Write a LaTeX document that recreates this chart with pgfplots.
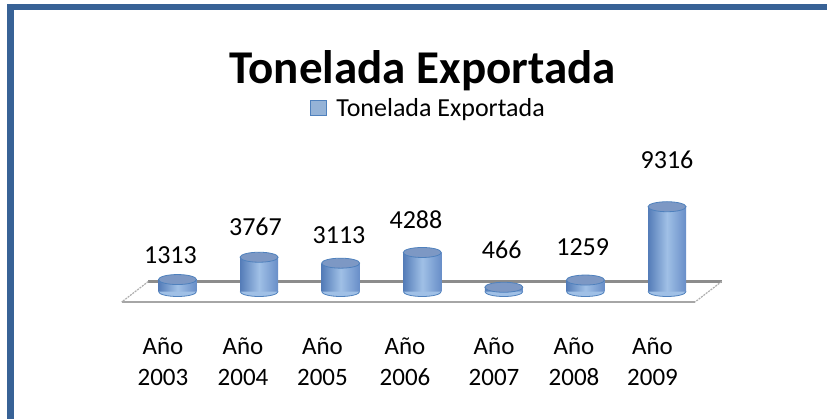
\documentclass[border=0pt]{standalone}
\usepackage{fontspec}
\setmainfont{Carlito}
\usepackage{pgfplots}
\usepackage{pgfplotstable}
\pgfplotsset{compat=1.18}
\definecolor{frameblue}{RGB}{56,98,150}
\definecolor{cylborder}{RGB}{79,129,189}
\definecolor{cyltop}{RGB}{125,152,196}
\definecolor{cylleft}{RGB}{84,124,184}
\definecolor{cylmid}{RGB}{160,192,230}
\definecolor{cylright}{RGB}{104,142,200}
\definecolor{legfill}{RGB}{149,179,215}
\definecolor{floorback}{RGB}{140,140,140}
\definecolor{floorfront}{RGB}{166,166,166}
\definecolor{floorside}{RGB}{175,175,175}
\pgfdeclareplotmark{cyltopmark}{%
  \pgfpathellipse{\pgfpointorigin}{\pgfqpoint{19pt}{0pt}}{\pgfqpoint{0pt}{5pt}}%
  \pgfusepathqfillstroke}
\pgfdeclareplotmark{cylbotmark}{%
  \pgfpathmoveto{\pgfqpoint{-19pt}{0pt}}%
  \pgfpatharc{180}{360}{19pt and 5pt}%
  \pgfusepathqfillstroke}
\pgfplotstableread{
x y
0 1313
1 3767
2 3113
3 4288
4 466
5 1259
6 9316
}\datatable
\newcommand{\cylbody}[2]{\addplot[ybar, bar width=38pt, draw=none, shading=axis, left color=cylleft, right color=cylright, middle color=cylmid, forget plot] coordinates {(#1,#2)};}
\begin{document}
\begin{tikzpicture}[x=1pt,y=1pt]
\path[use as bounding box] (0,0) rectangle (827,418);
\fill[white] (0,0) rectangle (827,418);
\draw[frameblue, line width=6.5pt] (10.7,-5) -- (10.7,411) -- (835,411);
% floor
\fill[white] (148.3,136.5) -- (721.7,136.5) -- (695,116) -- (121.7,116) -- cycle;
\draw[floorback, line width=2.2pt] (148.3,136.5) -- (721.7,136.5);
\draw[floorfront, line width=2.2pt] (121.7,116) -- (695,116);
\draw[floorside, line width=1.2pt, dash pattern=on 2pt off 1pt] (148.3,136.5) -- (121.7,116);
\draw[floorside, line width=1.2pt, dash pattern=on 2pt off 1pt] (721.7,136.5) -- (695,116);
\begin{axis}[
  at={(95.9pt,90.1pt)}, anchor=south west,
  scale only axis, width=652.7pt, height=182pt,
  xmin=-1, xmax=7, ymin=-4000, ymax=16000,
  axis line style={draw=none}, major tick length=0pt,
  ytick=\empty,
  xtick={-0.178,0.803,1.777,2.789,3.880,4.860,5.822},
  xticklabels={{Año\\2003},{Año\\2004},{Año\\2005},{Año\\2006},{Año\\2007},{Año\\2008},{Año\\2009}},
  xticklabel style={align=center, font=\fontsize{25}{31}\selectfont, anchor=center, yshift=-34pt},
  clip=false,
  legend style={at={(0.5095,1.208)}, anchor=center, draw=none, fill=none,
    font=\fontsize{26}{31}\selectfont, inner sep=0pt},
]
\addplot[only marks, mark=cylbotmark, mark options={fill=cylmid, draw=cylborder, line width=0.8pt}, forget plot]
  table[x=x, y expr=0] {\datatable};
\cylbody{0}{1313}
\cylbody{1}{3767}
\cylbody{2}{3113}
\cylbody{3}{4288}
\cylbody{4}{466}
\cylbody{5}{1259}
\cylbody{6}{9316}
\addplot[only marks, mark=cyltopmark, mark options={fill=cyltop, draw=cylborder, line width=0.8pt}, forget plot]
  table[x=x, y=y] {\datatable};
\addlegendimage{legend image code/.code={\draw[fill=legfill, draw=cylborder, line width=1.2pt] (0pt,-7.8pt) rectangle (15.5pt,7.8pt); \path (23.5pt,0pt);}}
\addlegendentry{Tonelada Exportada}
\addplot[draw=none, mark=none, forget plot, nodes near coords, point meta=explicit symbolic,
  nodes near coords align={center},
  every node near coord/.append style={font=\fontsize{26}{30}\selectfont, text=black}]
  coordinates {(-0.086,4011)[1313] (0.956,7121)[3767] (1.980,6209)[3113] (2.923,7857)[4288]
               (3.974,4560)[466] (4.967,4923)[1259] (6.0,14451)[9316]};
\end{axis}
\node[anchor=base, font=\fontsize{47}{53}\selectfont\bfseries] at (422.5,334.7) {Tonelada Exportada};
\end{tikzpicture}
\end{document}
